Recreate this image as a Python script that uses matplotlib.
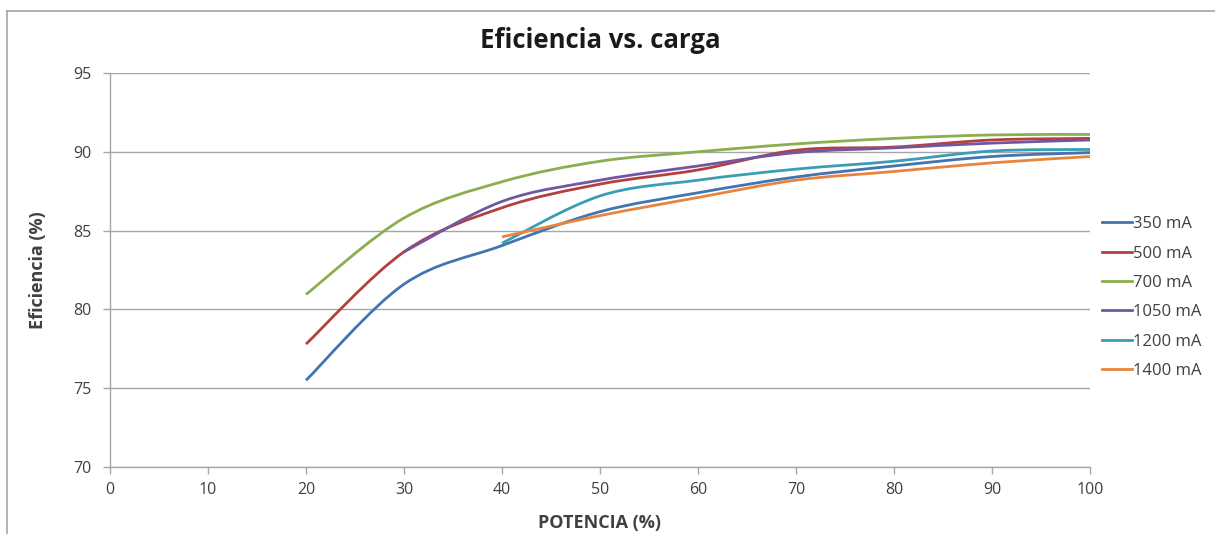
import matplotlib
matplotlib.use("Agg")
import matplotlib.pyplot as plt
from matplotlib.path import Path
from matplotlib.patches import PathPatch
from matplotlib.lines import Line2D

plt.rcParams['font.family'] = ['Open Sans', 'DejaVu Sans']

# Datos (lectura aproximada del gráfico)
potencia = [20, 30, 40, 50, 60, 70, 80, 90, 100]
ef_350 = [75.5, 81.6, 84.05, 86.2, 87.4, 88.4, 89.1, 89.7, 89.95]
ef_500 = [77.8, 83.65, 86.45, 87.95, 88.85, 90.1, 90.3, 90.75, 90.85]
ef_700 = [80.95, 85.8, 88.1, 89.4, 90.0, 90.5, 90.85, 91.07, 91.1]
ef_1050 = [83.65, 86.85, 88.2, 89.1, 89.95, 90.25, 90.55, 90.75]
ef_1200 = [84.2, 87.2, 88.2, 88.9, 89.4, 90.05, 90.15]
ef_1400 = [84.6, 85.95, 87.1, 88.2, 88.75, 89.3, 89.7]

series = [
    ("350 mA", potencia, ef_350, "#4274B2"),
    ("500 mA", potencia, ef_500, "#B3403E"),
    ("700 mA", potencia, ef_700, "#8BAE4F"),
    ("1050 mA", potencia[1:], ef_1050, "#7256A0"),
    ("1200 mA", potencia[2:], ef_1200, "#3A9DB5"),
    ("1400 mA", potencia[2:], ef_1400, "#E8843E"),
]


# Línea suavizada estilo Excel (Bezier a partir de los puntos)
def camino_suave(xs, ys):
    pts = list(zip(xs, ys))
    n = len(pts)
    verts = [pts[0]]
    codes = [Path.MOVETO]
    for i in range(n - 1):
        p0 = pts[i - 1] if i > 0 else pts[i]
        p1 = pts[i]
        p2 = pts[i + 1]
        p3 = pts[i + 2] if i + 2 < n else pts[i + 1]
        c1 = (p1[0] + (p2[0] - p0[0]) / 6, p1[1] + (p2[1] - p0[1]) / 6)
        c2 = (p2[0] - (p3[0] - p1[0]) / 6, p2[1] - (p3[1] - p1[1]) / 6)
        verts += [c1, c2, p2]
        codes += [Path.CURVE4] * 3
    return Path(verts, codes)


fig = plt.figure(figsize=(12.15, 5.34), dpi=100)
ax = fig.add_axes([110 / 1215, 1 - 467 / 534, 980 / 1215, 394 / 534])

gris = "#A6A6A6"
texto = "#404040"

handles = []
for nombre, xs, ys, color in series:
    patch = PathPatch(camino_suave(xs, ys), facecolor="none", edgecolor=color,
                      linewidth=2.0, capstyle="butt", zorder=3)
    ax.add_patch(patch)
    handles.append(Line2D([], [], color=color, linewidth=2.0, label=nombre))

ax.set_xlim(0, 100)
ax.set_ylim(70, 95)
ax.set_xticks(range(0, 101, 10))
ax.set_yticks(range(70, 96, 5))
ax.yaxis.grid(True, color=gris, linewidth=1.0)
ax.set_axisbelow(True)

for lado in ["top", "right"]:
    ax.spines[lado].set_visible(False)
for lado in ["left", "bottom"]:
    ax.spines[lado].set_color(gris)
    ax.spines[lado].set_linewidth(1.0)
ax.tick_params(axis="both", colors=gris, labelcolor=texto, labelsize=11.5,
               length=5, width=1.0, direction="out")
ax.tick_params(axis="x", pad=6)
ax.tick_params(axis="y", pad=8)

ax.set_xlabel("POTENCIA (%)", fontsize=13, fontweight="bold", color=texto, labelpad=11)
ax.set_ylabel("Eficiencia (%)", fontsize=13, fontweight="bold", color=texto, labelpad=19)
fig.text(0.494, 1 - 40 / 534, "Eficiencia vs. carga", ha="center", va="center",
         fontsize=18.5, fontweight="bold", color="#1a1a1a")

ax.legend(handles=handles, loc="center left", bbox_to_anchor=(0.999, 0.43),
          frameon=False, fontsize=12, handlelength=1.75, handletextpad=0.1,
          labelspacing=0.8, borderaxespad=0.4, labelcolor=texto)

# Marco exterior del gráfico
fig.add_artist(Line2D([7 / 1215, 7 / 1215], [0, 1 - 11 / 534], color=gris, linewidth=1.2,
                      transform=fig.transFigure))
fig.add_artist(Line2D([7 / 1215, 1], [1 - 11 / 534, 1 - 11 / 534], color=gris, linewidth=1.2,
                      transform=fig.transFigure))

fig.savefig("out.png", dpi=100)
